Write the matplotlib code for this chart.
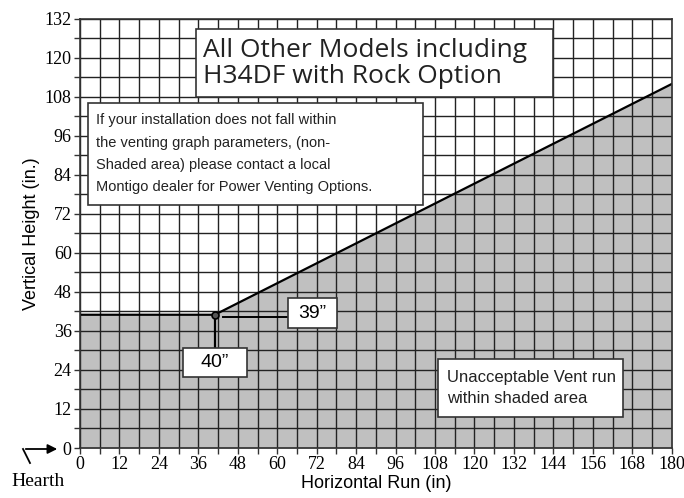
import matplotlib
matplotlib.use("Agg")
import matplotlib.pyplot as plt
from matplotlib.patches import Rectangle, FancyArrowPatch
import numpy as np

# boundary of the unacceptable (shaded) region
boundary_x = [0, 41, 180]
boundary_y = [41, 41, 112]
knee_x, knee_y = 41, 41

x_ticks = list(range(0, 181, 12))
y_ticks = list(range(0, 133, 12))
grid_step = 6

title_lines = ["All Other Models including", "H34DF with Rock Option"]
info_lines = ["If your installation does not fall within",
              "the venting graph parameters, (non-",
              "Shaded area) please contact a local",
              "Montigo dealer for Power Venting Options."]
shade_note = ["Unacceptable Vent run", "within shaded area"]
label_run = "39\u201d"
label_rise = "40\u201d"

serif = "Liberation Serif"
sans = "Liberation Sans"
plt.rcParams["font.family"] = [serif, "DejaVu Serif"]

fig = plt.figure(figsize=(6.84, 4.98), dpi=100)
ax = fig.add_axes([0.117, 0.1004, 0.865, 0.8615])
ax.set_xlim(0, 180)
ax.set_ylim(0, 132)

# shaded area under the boundary
ax.fill_between(boundary_x, 0, boundary_y, color="#c0c0c0", zorder=1)

# grid
for gx in np.arange(0, 181, grid_step):
    ax.axvline(gx, color="#222222", lw=1.0, zorder=2)
for gy in np.arange(0, 133, grid_step):
    ax.axhline(gy, color="#222222", lw=1.0, zorder=2)

ax.plot(boundary_x, boundary_y, color="black", lw=1.6, zorder=3)
ax.plot([knee_x], [knee_y], marker="o", ms=5, mfc="#555555", mec="black", mew=1.2, zorder=6)

ax.set_xticks(x_ticks)
ax.set_yticks(y_ticks)
ax.set_xticks(np.arange(0, 181, grid_step), minor=True)
ax.set_yticks(np.arange(0, 133, grid_step), minor=True)
ax.tick_params(which="both", direction="out", length=4, width=1, color="#333333")
ax.tick_params(which="major", labelsize=13, pad=2)
for s in ax.spines.values():
    s.set_color("#333333")
    s.set_linewidth(1.2)
    s.set_zorder(4)

ax.set_xlabel("Horizontal Run (in)", family=sans, fontsize=13, labelpad=1)
ax.set_ylabel("Vertical Height (in.)", family=sans, fontsize=13, labelpad=3)


def box(x0, y0, x1, y1, lw=1.2):
    ax.add_patch(Rectangle((x0, y0), x1 - x0, y1 - y0, facecolor="white",
                           edgecolor="#333333", lw=lw, zorder=7))


# title box
box(35.3, 108.0, 143.8, 128.9)
ax.text(37.4, 118.3, "\n".join(title_lines), family=["Open Sans", "DejaVu Sans"],
        fontsize=19, ha="left", va="center", linespacing=1.1, color="#222222", zorder=8)

# info box
box(2.4, 74.8, 104.3, 106.2)
ax.text(4.8, 90.5, "\n".join(info_lines), family=sans, fontsize=10.5,
        ha="left", va="center", linespacing=1.75, color="#222222", zorder=8)

# shaded-area note
box(108.8, 9.5, 165.1, 27.4)
ax.text(111.6, 18.4, "\n".join(shade_note), family=sans, fontsize=12,
        ha="left", va="center", linespacing=1.45, color="#222222", zorder=8)

# dimension labels
ax.plot([43.5, 63.2], [40.4, 40.4], color="black", lw=1.4, zorder=5)
box(63.2, 36.9, 78.1, 46.2)
ax.text(70.6, 41.5, label_run, family=sans, fontsize=14,
        ha="center", va="center", zorder=8)
ax.plot([41.2, 41.2], [40, 30.8], color="black", lw=1.6, zorder=5)
box(31.3, 21.8, 50.8, 30.8)
ax.text(41.0, 26.3, label_rise, family=sans, fontsize=14,
        ha="center", va="center", zorder=8)

# hearth marker
fig.add_artist(plt.Line2D([30 / 684, 23 / 684], [1 - 463 / 498, 1 - 449 / 498],
                          color="black", lw=1.3))
fig.add_artist(FancyArrowPatch((23 / 684, 1 - 449 / 498), (60 / 684, 1 - 449 / 498),
                               transform=fig.transFigure, arrowstyle="-|>",
                               mutation_scale=14, color="black", lw=1.3))
fig.text(38 / 684, 1 - 481 / 498, "Hearth", family=serif, fontsize=14, ha="center", va="center")

fig.savefig("out.png", dpi=100)
